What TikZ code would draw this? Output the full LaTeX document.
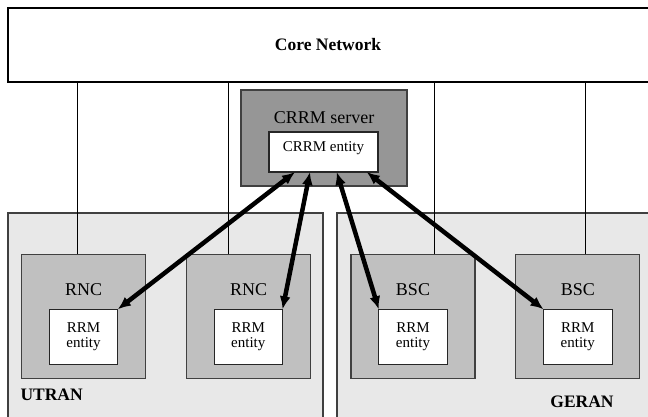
\documentclass[tikz,border=0pt]{standalone}
\usepackage{fontspec}
\setmainfont{Liberation Serif}
\usetikzlibrary{arrows.meta,calc}
\definecolor{ranfill}{HTML}{E8E8E8}
\definecolor{ctrlfill}{HTML}{C0C0C0}
\definecolor{srvfill}{HTML}{969696}
\definecolor{edge}{HTML}{404040}
\tikzset{
  box/.style={draw=edge, line width=1.1pt, inner sep=0pt, outer sep=0pt},
  ran/.style={box, fill=ranfill},
  ctrl/.style={box, fill=ctrlfill},
  entbox/.style={box, draw=black!85, fill=white},
  link/.style={draw=black, line width=0.9pt},
  arr/.style={draw=black, line width=4.5pt, {Latex[length=13pt,width=11pt]}-{Latex[length=13pt,width=11pt]}},
  big/.style={font=\fontsize{18}{20}\selectfont},
  bigb/.style={font=\fontsize{17.5}{20}\selectfont\bfseries},
  small/.style={font=\fontsize{15}{17.5}\selectfont, align=center},
}
\begin{document}
\begin{tikzpicture}[x=1pt,y=-1pt]
\clip (0,0) rectangle (648,416);
\fill[white] (0,0) rectangle (648,416);
% core network
\draw[line width=1.1pt, fill=white] (8,8) rectangle (660,82);
\node[bigb] (corelbl) at (328,45) {Core Network};
% RAN areas
\draw[ran] (8,213) rectangle (323,430);
\draw[ran] (337,213) rectangle (660,430);
\node[bigb, anchor=west] (utran) at (17,395) {UTRAN};
\node[bigb] (geran) at (582,402) {GERAN};
% CRRM server
\node[box, fill=srvfill, minimum width=166pt, minimum height=96pt] (srv) at (324,138) {};
\node[big] (srvlbl) at (324,118) {CRRM server};
\node[entbox, minimum width=109pt, minimum height=40pt] (crrm) at (323.5,152) {};
\node[font=\fontsize{15}{17}\selectfont] (crrmlbl) at (323.5,148.5) {CRRM entity};
% controllers
\node[ctrl, minimum width=124pt, minimum height=124pt] (rnc1) at (83.7,316.3) {};
\node[ctrl, minimum width=124pt, minimum height=124pt] (rnc2) at (248.7,316.3) {};
\node[ctrl, minimum width=124pt, minimum height=124pt] (bsc1) at (413,316.3) {};
\node[ctrl, minimum width=124pt, minimum height=124pt] (bsc2) at (577.8,316.3) {};
\foreach \n/\t in {rnc1/RNC, rnc2/RNC, bsc1/BSC, bsc2/BSC}{
  \node[big] (\n lbl) at ($(\n.north)+(0,35)$) {\t};
}
% connectors to core
\draw[link] (rnc1.north -| 77,0) -- (77,82);
\draw[link] (rnc2.north -| 228,0) -- (228,82);
\draw[link] (bsc1.north -| 434,0) -- (434,82);
\draw[link] (bsc2.north -| 585,0) -- (585,82);
% RRM entities
\node[entbox, minimum width=68.5pt, minimum height=55pt] (rrm1) at (83.5,336.8) {};
\node[entbox, minimum width=68.5pt, minimum height=55pt] (rrm2) at (248.3,336.8) {};
\node[entbox, minimum width=68.5pt, minimum height=55pt] (rrm3) at (413,336.8) {};
\node[entbox, minimum width=68.5pt, minimum height=55pt] (rrm4) at (577.8,336.8) {};
\foreach \n in {rrm1,rrm2,rrm3,rrm4}{
  \node[small] (\n lbl) at (\n) {RRM\\[-2pt]entity};
}
% arrows
\coordinate (c1) at ($(crrm.south west)!0.239!(crrm.south east)$);
\coordinate (c2) at ($(crrm.south west)!0.376!(crrm.south east)$);
\coordinate (c3) at ($(crrm.south west)!0.621!(crrm.south east)$);
\coordinate (c4) at ($(crrm.south west)!0.896!(crrm.south east)$);
\draw[arr] (rrm1.north east) -- (c1);
\draw[arr] (rrm2.north east) -- (c2);
\draw[arr] (rrm3.north west) -- (c3);
\draw[arr] (rrm4.north west) -- (c4);
\end{tikzpicture}
\end{document}
